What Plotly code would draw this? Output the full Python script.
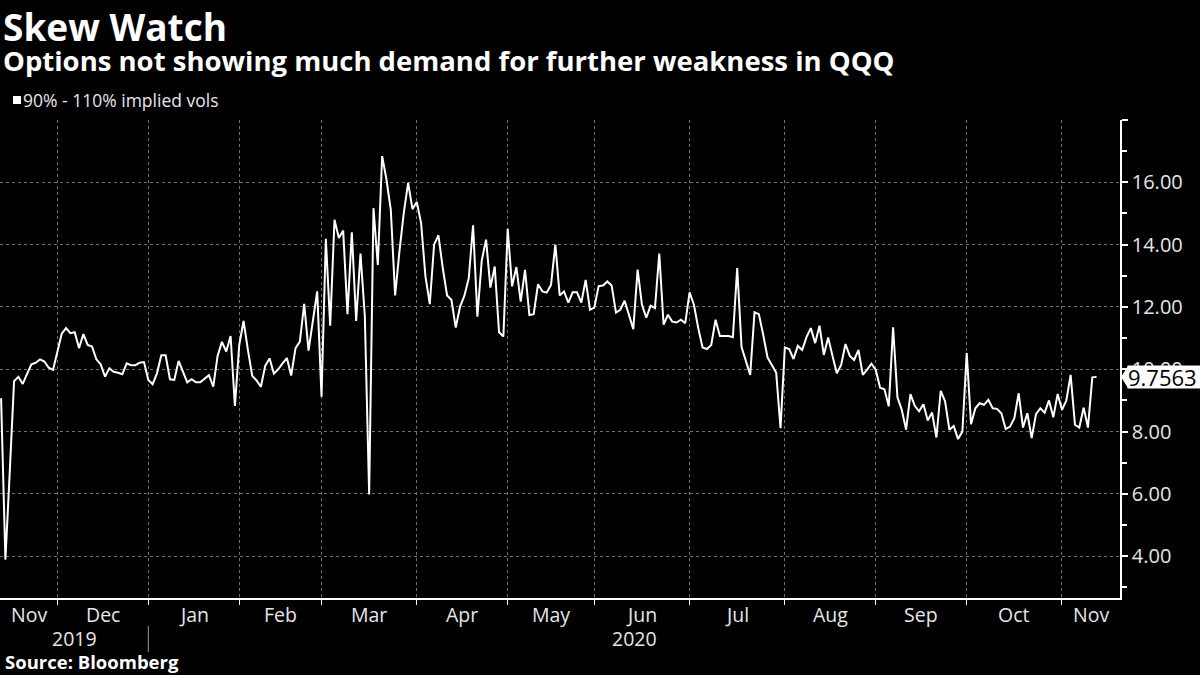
import pandas as pd
import plotly.graph_objects as go

# ---- data: 90%-110% implied vol skew for QQQ, one value per trading day ----
nov_2019 = [9.07, 3.89, 6.7, 9.62, 9.76, 9.53, 9.85, 10.16, 10.21, 10.32, 10.25, 10.05, 9.98]
dec_2019 = [10.6, 11.14, 11.32, 11.16, 11.19, 10.68, 11.13, 10.78, 10.73, 10.32, 10.16, 9.76,
            10.03, 9.92, 9.89, 9.84, 10.19, 10.13, 10.13, 10.21, 10.23]
jan_2020 = [9.66, 9.52, 9.87, 10.45, 10.45, 9.68, 9.66, 10.27, 9.92, 9.58, 9.68, 9.58, 9.58,
            9.69, 9.81, 9.44, 10.43, 10.88, 10.57, 11.07, 8.82]
feb_2020 = [10.78, 11.55, 10.62, 9.79, 9.64, 9.44, 10.11, 10.35, 9.86, 10.00, 10.19, 10.36,
            9.80, 10.68, 10.89, 12.10, 10.60, 11.59, 12.50]
mar_2020 = [9.12, 14.19, 11.40, 14.80, 14.21, 14.45, 11.77, 14.40, 11.55, 13.71, 11.71, 5.98,
            15.17, 13.35, 16.84, 16.09, 15.12, 12.37, 13.79, 15.02, 15.98, 15.14]
apr_2020 = [15.37, 14.69, 12.98, 12.09, 14.00, 14.30, 13.25, 12.37, 12.23, 11.34, 12.01, 12.36,
            12.92, 14.62, 11.69, 13.49, 14.16, 12.62, 13.30, 11.19, 11.05]
may_2020 = [14.51, 12.66, 13.28, 12.17, 13.19, 11.74, 11.77, 12.73, 12.50, 12.46, 12.71, 14.00,
            12.37, 12.50, 12.14, 12.47, 12.47, 12.14, 12.87, 11.91]
jun_2020 = [11.98, 12.67, 12.69, 12.82, 12.69, 11.82, 11.91, 12.20, 11.77, 11.29, 13.20, 12.07,
            11.66, 12.04, 11.96, 13.71, 11.43, 11.75, 11.53, 11.50, 11.59, 11.48]
jul_2020 = [12.47, 12.07, 11.32, 10.70, 10.65, 10.78, 11.59, 11.07, 11.07, 11.07, 11.03, 13.25,
            10.71, 10.30, 9.82, 11.83, 11.77, 11.11, 10.38, 10.14, 9.89, 8.11]
aug_2020 = [10.70, 10.65, 10.33, 10.75, 10.62, 11.03, 11.32, 10.84, 11.40, 10.46, 11.02, 10.43,
            9.87, 10.14, 10.81, 10.43, 10.30, 10.62, 9.82, 9.99, 10.18]
sep_2020 = [9.98, 9.41, 9.36, 8.81, 11.35, 9.10, 8.70, 8.06, 9.20, 8.83, 8.65, 8.88, 8.36,
            8.61, 7.81, 9.31, 8.97, 8.06, 8.18, 7.76, 8.00]
oct_2020 = [10.52, 8.24, 8.75, 8.91, 8.86, 9.02, 8.75, 8.73, 8.59, 8.08, 8.16, 8.43, 9.23,
            8.13, 8.59, 7.79, 8.56, 8.75, 8.61, 9.00, 8.46, 9.21]
nov_2020 = [8.70, 8.99, 9.82, 8.22, 8.13, 8.77, 8.13, 9.74, 9.7563]

month_names = ["Nov", "Dec", "Jan", "Feb", "Mar", "Apr", "May", "Jun", "Jul", "Aug", "Sep", "Oct", "Nov"]
year_labels = ["2019", "2020"]
y_tick_values = [4, 6, 8, 10, 12, 14, 16, 18]
y_tick_text = ["4.00", "6.00", "8.00", "10.00", "12.00", "14.00", "16.00", ""]
market_holidays = ["2019-11-28", "2019-12-25", "2020-01-01", "2020-01-20", "2020-02-17",
                   "2020-04-10", "2020-05-25", "2020-07-03", "2020-09-07"]

values = (nov_2019 + dec_2019 + jan_2020 + feb_2020 + mar_2020 + apr_2020 + may_2020 +
          jun_2020 + jul_2020 + aug_2020 + sep_2020 + oct_2020 + nov_2020)

bday = pd.offsets.CustomBusinessDay(holidays=market_holidays)
dates = pd.date_range("2019-11-12", "2020-11-12", freq=bday)
assert len(dates) == len(values)

idx = list(range(len(values)))  # trading-day axis (Bloomberg compresses non-trading days)
x_left = -0.25
x_right = len(values) - 1 + 5.4

# month boundaries = first trading day of each month
period = dates.to_period("M")
starts = [0] + [i for i in range(1, len(dates)) if period[i] != period[i - 1]]
boundaries = starts[1:]
month_edges = [x_left] + boundaries + [x_right]
month_centers = [(month_edges[k] + month_edges[k + 1]) / 2 for k in range(len(month_edges) - 1)]
jan_start = [i for i in boundaries if dates[i].month == 1][0]
year_centers = [(x_left + jan_start) / 2, (jan_start + x_right) / 2]

FONT = "Open Sans"
TXT = "#e6e6e6"

fig = go.Figure()
fig.add_trace(go.Scatter(
    x=idx, y=values, mode="lines",
    line=dict(color="white", width=2),
    customdata=[d.strftime("%Y-%m-%d") for d in dates],
    hovertemplate="%{customdata}: %{y:.4f}<extra></extra>",
    showlegend=False,
))

PLOT_TOP, PLOT_BOTTOM = 120, 598
H = PLOT_BOTTOM - PLOT_TOP


def py(px):
    return (PLOT_BOTTOM - px) / H


annotations = [
    dict(text="<b>Skew Watch</b>", x=0, xshift=1, y=py(26), xref="paper", yref="paper",
         xanchor="left", yanchor="middle", showarrow=False, height=40,
         font=dict(family=FONT, size=37, color="white")),
    dict(text="<b>Options not showing much demand for further weakness in QQQ</b>",
         x=0, xshift=1, y=py(60), xref="paper", yref="paper",
         xanchor="left", yanchor="middle", showarrow=False,
         font=dict(family=FONT, size=27.5, color="white")),
    dict(text="90% - 110% implied vols", x=0, xshift=21, y=py(100), xref="paper", yref="paper",
         xanchor="left", yanchor="middle", showarrow=False,
         font=dict(family=FONT, size=17.5, color=TXT)),
    dict(text="<b>Source: Bloomberg</b>", x=0, xshift=3, y=py(661), xref="paper", yref="paper",
         xanchor="left", yanchor="middle", showarrow=False,
         font=dict(family=FONT, size=18.5, color="white")),
    dict(text=f"{values[-1]:.4f}", x=1, xshift=7, y=values[-1], xref="paper", yref="y",
         xanchor="left", yanchor="middle", showarrow=False, bgcolor="white", borderpad=0,
         width=73, height=22, align="left",
         font=dict(family=FONT, size=22, color="black")),
]
for c, name in zip(month_centers, month_names):
    annotations.append(dict(text=name, x=c, y=0, xref="x", yref="paper", yshift=-16,
                            xanchor="center", yanchor="middle", showarrow=False,
                            font=dict(family=FONT, size=19.5, color=TXT)))
for c, name in zip(year_centers, year_labels):
    annotations.append(dict(text=name, x=c, y=0, xref="x", yref="paper", yshift=-40,
                            xanchor="center", yanchor="middle", showarrow=False,
                            font=dict(family=FONT, size=19.5, color=TXT)))

shapes = [
    # legend square
    dict(type="rect", xref="paper", yref="paper", x0=13 / 1120, x1=21 / 1120,
         y0=py(104), y1=py(96), fillcolor="white", line=dict(width=0)),
    # year separator under the axis
    dict(type="line", xref="x", yref="paper", x0=jan_start, x1=jan_start,
         y0=py(626), y1=py(652), line=dict(color="#9a9a9a", width=1)),
    # pointer of the last-value flag
    dict(type="path", xref="paper", yref="y", xsizemode="pixel", ysizemode="pixel",
         xanchor=1, yanchor=values[-1], path="M 1,0 L 8,11 L 8,-11 Z",
         fillcolor="white", line=dict(width=0)),
]

fig.update_layout(
    width=1200, height=675,
    paper_bgcolor="black", plot_bgcolor="black",
    margin=dict(l=0, r=80, t=PLOT_TOP, b=675 - PLOT_BOTTOM),
    showlegend=False,
    annotations=annotations,
    shapes=shapes,
    font=dict(family=FONT, color=TXT),
    xaxis=dict(
        range=[x_left, x_right], tickmode="array", tickvals=boundaries,
        showticklabels=False, ticks="outside", ticklen=5, tickcolor="white", tickwidth=1,
        showgrid=True, gridcolor="#707070", griddash="dot", gridwidth=1,
        showline=True, linecolor="white", linewidth=1.5, zeroline=False,
    ),
    yaxis=dict(
        side="right", range=[2.66, 18.0], tickmode="array",
        tickvals=y_tick_values, ticktext=y_tick_text,
        ticks="outside", ticklen=6, tickwidth=2, tickcolor="white",
        tickfont=dict(family=FONT, size=20, color=TXT),
        minor=dict(tick0=1, dtick=2, ticks="outside", ticklen=5, tickcolor="white", showgrid=False),
        showgrid=True, gridcolor="#707070", griddash="dot", gridwidth=1,
        showline=True, linecolor="white", linewidth=1.5, zeroline=False,
    ),
)

fig.write_html(
    "out.html",
    config={"displayModeBar": False},
    post_script="document.body.style.margin='0';document.body.style.overflow='hidden';"
                "document.body.style.background='black';",
)
